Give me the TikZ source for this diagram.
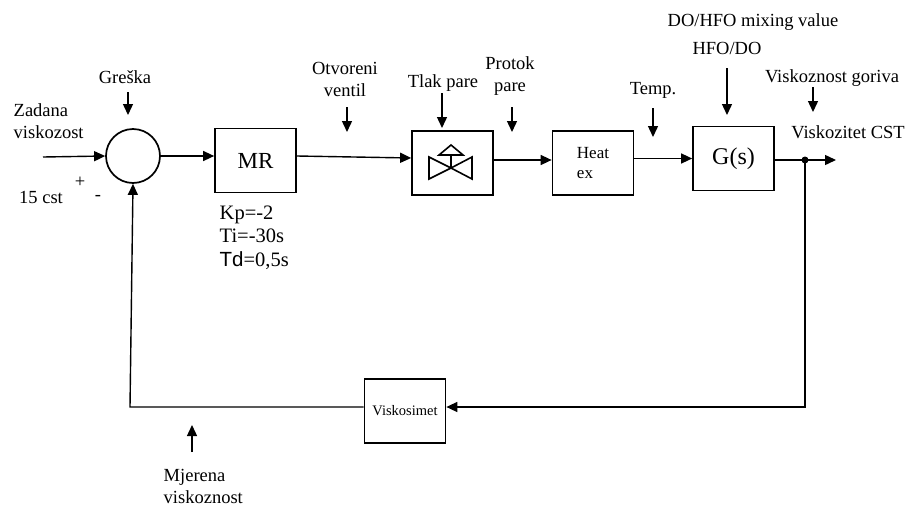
\documentclass[tikz,border=0pt]{standalone}
\usepackage{fontspec}
\setmainfont{Liberation Serif}
\newfontfamily\arialfont{Liberation Sans}
\usetikzlibrary{arrows.meta}

\begin{document}
\begin{tikzpicture}[x=1pt, y=-1pt, line width=1.4pt]
    \useasboundingbox (0,0) rectangle (909,506);

    % --- DEFINE STYLES ---
    % Style for the blocks of the loop
    \tikzstyle{block} = [rectangle, draw, line width=1.7pt, inner sep=0pt, minimum width=81pt, minimum height=64pt]
    % Style for signal arrows
    \tikzstyle{sig} = [-{Triangle[length=11pt,width=10pt]}]
    % Style for the texts
    \tikzstyle{lbl} = [inner sep=0pt, align=center, font=\fontsize{18.5}{22}\selectfont]

    % Summing point and blocks
    \node[circle, draw, line width=1.7pt, minimum size=54pt, inner sep=0pt] (sum) at (133,156) {};
    \node[block, font=\fontsize{23}{26}\selectfont] (mr) at (255.5,160.5) {MR};
    \node[block] (valve) at (452.5,163) {};
    \node[block, align=left, font=\fontsize{17}{20}\selectfont] (heat) at (593,163) {Heat\\ex};
    \node[block, font=\fontsize{24}{26}\selectfont] (gs) at (733.5,158.5) {G(s)};
    \node[block, font=\fontsize{14.5}{16}\selectfont] (visko) at (405,411) {Viskosimet};

    % Valve symbol
    \draw[line width=1.6pt] (429,157) -- (429,179) -- (451,168) -- cycle
        (472,157) -- (472,179) -- (451,168) -- cycle
        (451,168) -- (451,155)
        (439,155) -- (463,155) -- (451,145) -- cycle;

    % Labels
    \node[lbl, align=left, anchor=west] (zadana) at (13,121) {Zadana\\viskozost};
    \node[lbl] (greska) at (125,77) {Greška};
    \node[lbl] (plus) at (80,182) {+};
    \node[lbl] (cst) at (41,197) {15 cst};
    \node[lbl] (minus) at (98,198) {-};
    \node[lbl, align=left, anchor=north west, font=\fontsize{20.5}{23.5}\selectfont] (param) at (219,205)
        {Kp=-2\\Ti=-30s\\{\arialfont Td}=0,5s};
    \node[lbl] (otvoreni) at (345,79) {Otvoreni\\ventil};
    \node[lbl] (tlak) at (443,83) {Tlak pare};
    \node[lbl] (protok) at (510,76) {Protok\\pare};
    \node[lbl] (temp) at (653,90) {Temp.};
    \node[lbl] (mixing) at (753,22) {DO/HFO mixing value};
    \node[lbl] (hfodo) at (727,48) {HFO/DO};
    \node[lbl] (goriva) at (832,78) {Viskoznost goriva};
    \node[lbl] (cstout) at (848,132) {Viskozitet CST};
    \node[lbl, align=left, anchor=west] (mjerena) at (163,486) {Mjerena\\viskoznost};

    % Signal arrows
    \foreach \n/\x/\ya/\yb in {g/128/92/115, o/347/107/132, t/442/93/128, p/512/107/132,
                               e/653/108/137, h/727/68/115, v/813/87/112, m/192/452/425} {
        \coordinate (\n1) at (\x,\ya);
        \coordinate (\n2) at (\x,\yb);
        \draw[sig] (\n1) -- (\n2);
    }

    % Main loop
    \coordinate (in) at (43,157);
    \coordinate (dot) at (805,160);
    \coordinate (out) at (836,160);
    \coordinate (corner) at (130,407);
    \draw[sig] (in) -- (sum.west);
    \draw[sig] (sum.east) -- (mr.west |- sum);
    \draw[sig] (mr.east |- sum) -- (valve.west |- 0,158);
    \draw[sig] (valve.east |- 0,160) -- (heat.west |- 0,160);
    \draw[sig] (heat.east |- gs) -- (gs.west);
    \draw[sig] (gs.east |- dot) -- (out);
    \fill (dot) circle (3.5pt);
    \draw[sig] (dot) -- (dot |- corner) -- (visko.east |- corner);
    \draw[sig] (visko.west |- corner) -- (corner) -- (sum.south);
\end{tikzpicture}
\end{document}
